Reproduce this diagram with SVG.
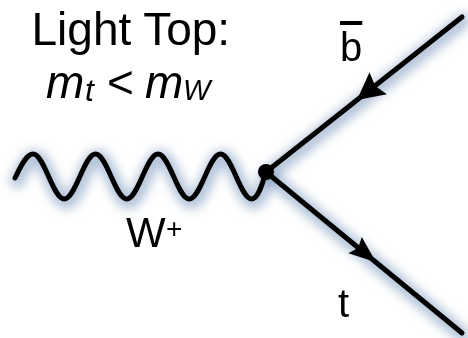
<svg xmlns="http://www.w3.org/2000/svg" width="468" height="338" viewBox="0 0 468 338">
  <style>
    .lbl { font-family: "Liberation Sans", Arial, sans-serif; fill: #000; }
    .it { font-style: italic; }
    .line { fill: none; stroke: #000; stroke-width: 5; stroke-linecap: round; stroke-linejoin: round; }
    .glow { fill: none; stroke: #7896ba; stroke-width: 14; stroke-linecap: round; stroke-linejoin: round; opacity: 0.6; }
  </style>
  <defs>
    <filter id="blur" x="-20%" y="-20%" width="140%" height="140%">
      <feGaussianBlur stdDeviation="5.5"/>
    </filter>
    <path id="arrow-wide" d="M0,0 L-27,-14 L-23,0 L-27,14 Z" fill="#000"/>
    <path id="arrow-narrow" d="M0,0 L-27,-10.5 L-23,0 L-27,10.5 Z" fill="#000"/>
  </defs>
  <rect width="468" height="338" fill="#fff"/>

  <g id="connectors">
    <g id="glow" filter="url(#blur)" transform="translate(2,3)">
      <path class="glow" d="M15,178 C20,168 26,154 33,154 C44.36,154 52.89,199 64.25,199 C75.61,199 84.14,154 95.5,154 C106.86,154 115.39,199 126.75,199 C138.11,199 146.64,154 158,154 C169.36,154 177.89,199 189.25,199 C200.61,199 209.14,154 220.5,154 C231.86,154 240.39,199 251.75,199 C258,199 262,185 266,172"/>
      <line class="glow" x1="462" y1="17" x2="266" y2="172"/>
      <line class="glow" x1="266" y1="172" x2="462" y2="333"/>
    </g>
    <path id="w-boson" class="line" d="M15,178 C20,168 26,154 33,154 C44.36,154 52.89,199 64.25,199 C75.61,199 84.14,154 95.5,154 C106.86,154 115.39,199 126.75,199 C138.11,199 146.64,154 158,154 C169.36,154 177.89,199 189.25,199 C200.61,199 209.14,154 220.5,154 C231.86,154 240.39,199 251.75,199 C258,199 262,185 266,172"/>
    <line id="bbar-line" class="line" x1="462" y1="17" x2="266" y2="172"/>
    <line id="t-line" class="line" x1="266" y1="172" x2="462" y2="333"/>
    <use href="#arrow-wide" transform="translate(357,100) rotate(141.7)"/>
    <use href="#arrow-narrow" transform="translate(376,262.3) rotate(39.4)"/>
  </g>

  <g id="vertex">
    <circle cx="266" cy="172" r="8" fill="#000"/>
  </g>

  <g id="title">
    <text class="lbl" x="31.5" y="45" font-size="46">Light Top:</text>
    <text class="lbl" font-size="46"><tspan class="it" x="46" y="98">m</tspan><tspan class="it" x="85" y="101" font-size="32">t</tspan><tspan x="107" y="98">&lt;</tspan><tspan class="it" x="145" y="98">m</tspan><tspan class="it" x="183" y="100" font-size="29">W</tspan></text>
  </g>

  <g id="label-bbar">
    <text class="lbl" x="340" y="61" font-size="40" text-decoration="overline">b</text>
  </g>

  <g id="label-t">
    <text class="lbl" x="338" y="317" font-size="40">t</text>
  </g>

  <g id="label-w">
    <text class="lbl" x="126" y="247" font-size="42">W<tspan x="166" y="238" font-size="28">+</tspan></text>
  </g>
</svg>
